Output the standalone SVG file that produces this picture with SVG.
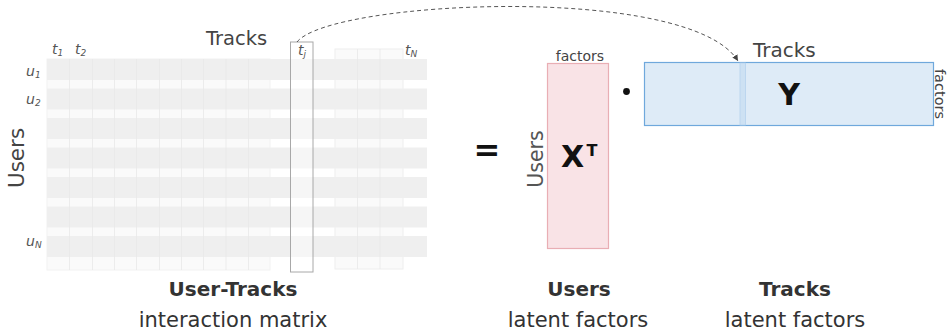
<svg xmlns="http://www.w3.org/2000/svg" width="947" height="336" viewBox="0 0 947 336">
<style>
  text { font-family: "DejaVu Sans", "Liberation Sans", sans-serif; }
  .lbl { fill: #444; }
  .idx { font-style: italic; font-size: 14px; fill: #555; }
  .sub { font-size: 9px; }
  .row { fill: #efefef; }
  .col { stroke: #e9e9e9; stroke-width: 0.8; }
  .cap { font-size: 20px; font-weight: bold; fill: #333; text-anchor: middle; }
  .capsub { font-size: 21px; fill: #333; text-anchor: middle; }
  .big { font-weight: bold; fill: #111; }
</style>
<defs>
  <marker id="arrow" markerWidth="8" markerHeight="8" refX="6" refY="4" orient="auto" markerUnits="userSpaceOnUse">
    <path d="M0,1 L6,4 L0,7 Z" fill="#444"/>
  </marker>
</defs>
<rect width="947" height="336" fill="#fff"/>

<g id="interaction-matrix">
  <rect x="47" y="59" width="223" height="211" fill="#fafafa" stroke="#f2f2f2"/>
  <rect x="335" y="49" width="68" height="220" fill="#fafafa" stroke="#eeeeee"/>
  <rect class="row" x="47" y="59" width="380" height="21"/>
  <rect class="row" x="47" y="88.5" width="380" height="21"/>
  <rect class="row" x="47" y="118" width="380" height="21"/>
  <rect class="row" x="47" y="147.5" width="380" height="21"/>
  <rect class="row" x="47" y="177" width="380" height="21"/>
  <rect class="row" x="47" y="206.5" width="380" height="21"/>
  <rect class="row" x="47" y="236" width="380" height="21"/>
  <g class="col">
    <line x1="69.5" y1="59" x2="69.5" y2="270"/>
    <line x1="92.5" y1="59" x2="92.5" y2="270"/>
    <line x1="114.5" y1="59" x2="114.5" y2="270"/>
    <line x1="136.5" y1="59" x2="136.5" y2="270"/>
    <line x1="159.5" y1="59" x2="159.5" y2="270"/>
    <line x1="181.5" y1="59" x2="181.5" y2="270"/>
    <line x1="203.5" y1="59" x2="203.5" y2="270"/>
    <line x1="226" y1="59" x2="226" y2="270"/>
    <line x1="248.5" y1="59" x2="248.5" y2="270"/>
    <line x1="357.5" y1="49" x2="357.5" y2="269"/>
    <line x1="380" y1="49" x2="380" y2="269"/>
  </g>
  <rect x="290.5" y="42" width="22.5" height="230" fill="#ffffff" fill-opacity="0.45" stroke="#a8a8a8" stroke-width="1"/>
  <text class="lbl" x="206" y="45" font-size="19.5">Tracks</text>
  <text class="idx" x="52" y="54">t<tspan class="sub" dy="2">1</tspan></text>
  <text class="idx" x="75" y="54">t<tspan class="sub" dy="2">2</tspan></text>
  <text class="idx" x="298" y="55">t<tspan class="sub" dy="2">j</tspan></text>
  <text class="idx" x="405" y="55">t<tspan class="sub" dy="2">N</tspan></text>
  <text class="idx" x="26" y="76">u<tspan class="sub" dy="2">1</tspan></text>
  <text class="idx" x="26" y="104">u<tspan class="sub" dy="2">2</tspan></text>
  <text class="idx" x="26" y="246">u<tspan class="sub" dy="2">N</tspan></text>
  <text class="lbl" font-size="21.5" text-anchor="middle" transform="translate(24,158) rotate(-90)">Users</text>
  <text class="cap" x="233" y="296">User-Tracks</text>
  <text class="capsub" x="233" y="327">interaction matrix</text>
</g>

<g id="equals">
  <text x="487" y="161" font-size="32" font-weight="bold" fill="#111" text-anchor="middle">=</text>
</g>

<g id="users-factors">
  <rect x="547.5" y="63.5" width="61" height="185" fill="#f9e3e6" stroke="#e9aeb4" stroke-width="1.2"/>
  <text class="lbl" x="580" y="60.5" font-size="14" text-anchor="middle">factors</text>
  <text font-size="20.5" fill="#555" text-anchor="middle" transform="translate(543,159) rotate(-90)">Users</text>
  <text class="big" x="561" y="167" font-size="30">X</text>
  <text class="big" x="586.5" y="156" font-size="16">T</text>
  <text class="cap" x="579" y="296">Users</text>
  <text class="capsub" x="578" y="327">latent factors</text>
</g>

<g id="dot">
  <circle cx="626.5" cy="91.5" r="3.4" fill="#111"/>
</g>

<g id="tracks-factors">
  <rect x="644.5" y="62.5" width="289" height="63" fill="#deebf7" stroke="#6fa8dc" stroke-width="1.2"/>
  <rect x="740" y="63" width="5.5" height="62" fill="#cde1f3" stroke="#b6d3ee" stroke-width="0.8"/>
  <text class="lbl" x="753" y="57" font-size="20">Tracks</text>
  <text class="big" x="789" y="105" font-size="30" text-anchor="middle">Y</text>
  <text class="lbl" font-size="14.5" text-anchor="middle" transform="translate(935,94) rotate(90)">factors</text>
  <text class="cap" x="795" y="296">Tracks</text>
  <text class="capsub" x="795" y="327">latent factors</text>
</g>

<g id="connectors">
  <path d="M297,42 C330,0 690,-17 738,61" fill="none" stroke="#555" stroke-width="1" stroke-dasharray="4,3" marker-end="url(#arrow)"/>
</g>
</svg>
